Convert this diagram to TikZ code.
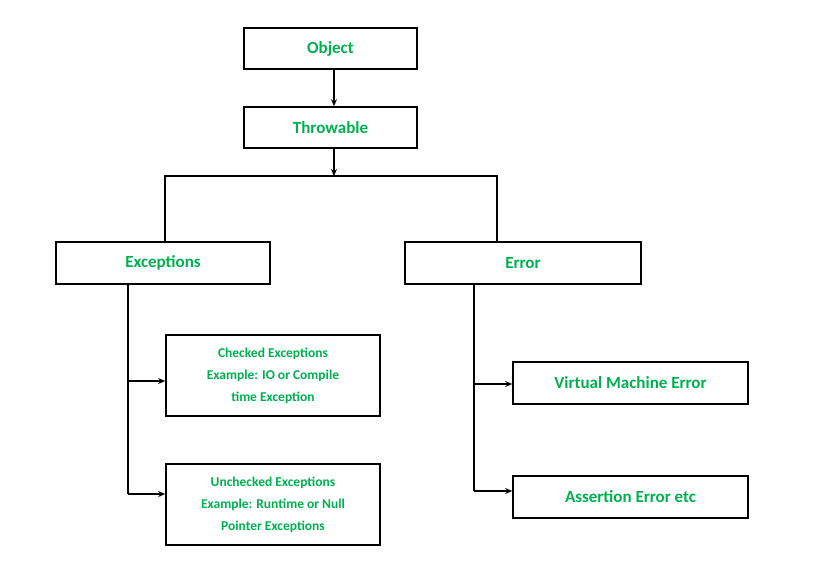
\documentclass[tikz,border=0pt]{standalone}
\usepackage{fontspec}
\setmainfont{Carlito}
\usetikzlibrary{arrows.meta}
\definecolor{gg}{RGB}{0,176,80}
\begin{document}
\begin{tikzpicture}[x=1pt,y=-1pt,
 box/.style={draw,line width=1.6pt,rectangle,inner sep=0pt,text=gg,font=\bfseries\fontsize{17}{20}\selectfont,align=center},
 sbox/.style={box,font=\bfseries\fontsize{13.5}{22}\selectfont},
 ln/.style={line width=1.6pt},
 ar/.style={ln,-{Stealth[length=7pt,width=6pt]}}]
\useasboundingbox (0,0) rectangle (819,579);
\node[box,minimum width=173pt,minimum height=41pt] (obj) at (330.5,48.5) {Object};
\node[box,minimum width=173pt,minimum height=41pt] (thr) at (330.5,127.5) {Throwable};
\node[box,minimum width=214pt,minimum height=42pt] (exc) at (163,263) {Exceptions};
\node[box,minimum width=236pt,minimum height=42pt] (err) at (523,263) {Error};
\node[sbox,minimum width=214pt,minimum height=81pt] (chk) at (273,375.5) {Checked Exceptions\\Example: IO or Compile\\time Exception};
\node[sbox,minimum width=214pt,minimum height=81pt] (unc) at (273,504.5) {Unchecked Exceptions\\Example: Runtime or Null\\Pointer Exceptions};
\node[box,minimum width=235pt,minimum height=42pt] (vme) at (630.5,383) {Virtual Machine Error};
\node[box,minimum width=235pt,minimum height=42pt] (ass) at (630.5,497) {Assertion Error etc};
\coordinate (j) at (334,176);
\draw[ar] (obj.south -| 334,0) -- (thr.north -| 334,0);
\draw[ar] (thr.south -| 334,0) -- (j);
\draw[ln] (165,242) -- (165,176) -- (497,176) -- (497,242);
\draw[ln] (exc.south -| 128,0) -- (128,494);
\draw[ar] (128,381) -- (chk.west |- 0,381);
\draw[ar] (128,494) -- (unc.west |- 0,494);
\draw[ln] (err.south -| 474,0) -- (474,491);
\draw[ar] (474,384) -- (vme.west |- 0,384);
\draw[ar] (474,491) -- (ass.west |- 0,491);
\end{tikzpicture}
\end{document}
